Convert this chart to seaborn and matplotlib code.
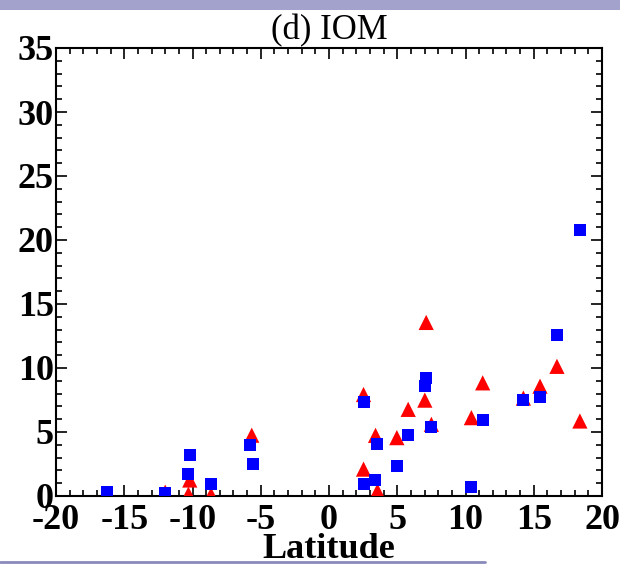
import matplotlib
matplotlib.use("Agg")
import matplotlib.pyplot as plt
from matplotlib.patches import Rectangle
from matplotlib.lines import Line2D
from matplotlib.ticker import MultipleLocator
import seaborn as sns
import pandas as pd

# ---- data ----
blue_lat = [-16.25, -12.0, -10.3, -10.15, -8.64, -5.76, -5.57, 2.58, 2.58, 3.39,
            3.55, 4.97, 5.8, 7.12, 7.02, 7.5, 10.43, 11.26, 14.24, 15.46, 16.7, 18.4]
blue_val = [0.3, 0.2, 1.7, 3.2, 0.96, 4.0, 2.5, 7.33, 0.93, 1.22,
            4.04, 2.36, 4.77, 9.2, 8.58, 5.42, 0.67, 5.94, 7.49, 7.75, 12.6, 20.76]
red_lat = [-12.0, -10.2, -10.3, -8.64, -5.66, 2.53, 2.53, 3.41, 3.55, 4.97,
           5.8, 7.12, 7.02, 7.5, 10.43, 11.26, 14.24, 15.46, 16.7, 18.38]
red_val = [0.3, 1.25, 0.15, 0.1, 4.75, 7.93, 2.1, 4.74, 0.4, 4.56,
           6.77, 13.56, 7.49, 5.6, 6.12, 8.84, 7.65, 8.58, 10.13, 5.86]
x_ticks = [-20, -15, -10, -5, 0, 5, 10, 15, 20]
y_ticks = [0, 5, 10, 15, 20, 25, 30, 35]
title = "(d) IOM"
xlabel = "Latitude"

sns.set_style("ticks")
plt.rcParams["font.family"] = ["Liberation Serif", "DejaVu Serif"]
plt.rcParams["axes.unicode_minus"] = False
plt.rcParams["text.color"] = "black"
plt.rcParams["xtick.labelcolor"] = "black"
plt.rcParams["ytick.labelcolor"] = "black"

fig = plt.figure(figsize=(6.2, 5.65), dpi=100)
ax = fig.add_axes([56/620, 1-496/565, (602-56)/620, (496-48)/565])

blue_df = pd.DataFrame({"lat": blue_lat, "val": blue_val})
red_df = pd.DataFrame({"lat": red_lat, "val": red_val})
sns.scatterplot(data=red_df, x="lat", y="val", marker="^", s=120, color="#ff0000",
                edgecolor="none", ax=ax, zorder=3)
sns.scatterplot(data=blue_df, x="lat", y="val", marker="s", s=75, color="#0000ff",
                edgecolor="none", ax=ax, zorder=3)

ax.set_xlim(-20, 20)
ax.set_ylim(0, 35)
ax.set_xticks(x_ticks)
ax.set_yticks(y_ticks)
ax.xaxis.set_minor_locator(MultipleLocator(1))
ax.yaxis.set_minor_locator(MultipleLocator(1))
ax.tick_params(which="both", direction="in", top=True, right=True, width=1.2,
               color="black", labelcolor="black")
ax.tick_params(which="major", length=8)
ax.tick_params(which="minor", length=4)
ax.tick_params(axis="x", which="major", pad=6)
ax.tick_params(axis="y", which="major", pad=1.5)
for lab in ax.get_xticklabels() + ax.get_yticklabels():
    lab.set_fontsize(26)
    lab.set_fontweight("bold")
for sp in ax.spines.values():
    sp.set_linewidth(1.5)
    sp.set_color("black")

ax.set_xlabel(xlabel, fontsize=26, fontweight="bold", labelpad=-3, color="black")
ax.set_ylabel("")
ax.set_title(title, fontsize=25, pad=6, color="black")

# slide decorations
fig.patches.append(Rectangle((0, 1-10/565), 1, 10/565, transform=fig.transFigure,
                             facecolor="#a2a2cc", edgecolor="none", zorder=0))
fig.lines.append(Line2D([0, 485/620], [1-562/565, 1-562/565], transform=fig.transFigure,
                        color="#8a8abb", linewidth=2))

fig.savefig("out.png", dpi=100)
